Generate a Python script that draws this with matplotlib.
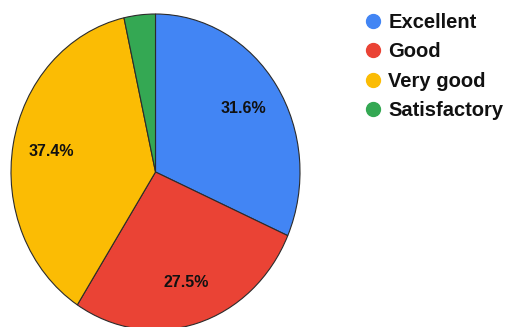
import matplotlib.pyplot as plt
from matplotlib.lines import Line2D

# ── data ────────────────────────────────────────────────────────────────
categories = ["Excellent", "Good", "Very good", "Satisfactory"]
shares = [31.6, 27.5, 37.4, 3.5]
colors = ["#4285F4", "#EA4335", "#FBBC04", "#34A853"]

plt.rcParams["font.family"] = ["Liberation Sans", "DejaVu Sans"]

W, H = 506, 327
fig = plt.figure(figsize=(W / 100, H / 100), dpi=100)
fig.patch.set_facecolor("white")

# pie sits in a slightly tall box (the source image was stretched)
ax = fig.add_axes([11 / W, -3 / H, 289 / W, 316 / H])


def pct_label(p):
    # the tiny slice carries no label
    return f"{p:.1f}%" if p > 5 else ""


wedges, texts, autotexts = ax.pie(
    shares, colors=colors, startangle=90, counterclock=False,
    autopct=pct_label, pctdistance=0.73,
    wedgeprops=dict(edgecolor="#2b2b2b", linewidth=0.8),
    textprops=dict(fontsize=11.5, fontweight="bold", color="#111111"),
)
ax.set_aspect("auto")
ax.set_xlim(-1.0, 1.0)
ax.set_ylim(-1.0, 1.0)
ax.axis("off")

handles = [Line2D([], [], marker="o", linestyle="none", markersize=10,
                  markerfacecolor=c, markeredgecolor=c) for c in colors]
fig.legend(handles, categories, loc="upper left",
           bbox_to_anchor=(365 / W, 1 - 13 / H), frameon=False,
           prop=dict(size=14.5, weight="bold"), labelspacing=0.52,
           handletextpad=0.35, handlelength=0.8, borderaxespad=0,
           borderpad=0, labelcolor="#111111")

fig.savefig("out.png", dpi=100, facecolor="white")
